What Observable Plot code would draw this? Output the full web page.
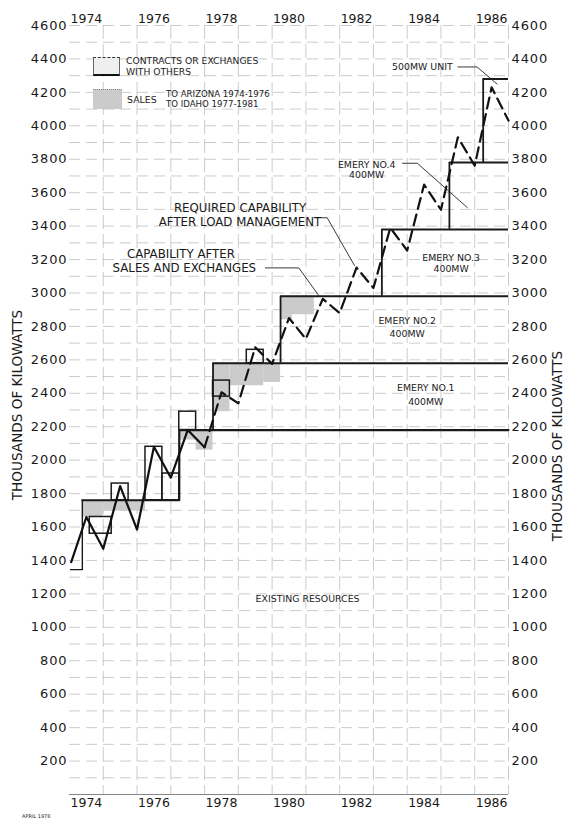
<!DOCTYPE html>
<html><head><meta charset="utf-8">
<script src="https://cdn.jsdelivr.net/npm/d3@7"></script>
<script src="https://cdn.jsdelivr.net/npm/@observablehq/plot@0.6"></script>
<style>
html,body{margin:0;padding:0;background:#fff;}
#wrap{position:relative;width:567px;height:833px;font-family:"DejaVu Sans",sans-serif;color:#1a1a1a;overflow:hidden;}
.lg{position:absolute;font-size:9.2px;line-height:1;white-space:nowrap;color:#222;}
.box{position:absolute;box-sizing:border-box;}
#wrap svg [aria-label="y-axis tick label"] text{letter-spacing:0.9px;}
</style></head><body><div id="wrap"></div>
<script>
// ---- data ----
const labelYears = [1974, 1976, 1978, 1980, 1982, 1984, 1986];
const valueTicks = d3.range(200, 4601, 200);
const gridValues = d3.range(100, 4601, 100);
const gridYears = d3.range(1975, 1988, 1);

// Required capability after load management (seasonal peaks / lows)
const reqYears  = [1974.05,1974.5,1975,1975.5,1976,1976.5,1977,1977.5,1978,1978.5,1979,1979.5,1980,1980.5,1981,1981.5,1982,1982.5,1983,1983.5,1984,1984.5,1985,1985.5,1986,1986.5,1987];
const reqValues = [1390,1660,1470,1845,1585,2080,1895,2180,2077,2406,2340,2675,2576,2850,2725,2965,2880,3152,3030,3390,3254,3648,3498,3931,3762,4230,4031];
const forecastFrom = 1978;

// Capability (existing resources) step line
const capYears  = [1974.38,1977.25,1977.25,1987];
const capValues = [1760,1760,2180,2180];
const capStartYears  = [1974.03,1974.38,1974.38];
const capStartValues = [1345,1345,1760];

// New units
const unitNames = ["EMERY NO.1","EMERY NO.2","EMERY NO.3","EMERY NO.4","500MW UNIT"];
const unitStart = [1978.25,1980.25,1983.25,1985.25,1986.25];
const unitBase  = [2180,2580,2980,3380,3780];
const unitTop   = [2580,2980,3380,3780,4280];
const planEnd = 1987;

// Sales (shaded)
const salesX1 = [1974.38,1975.0,1977.25,1977.75,1978.25,1978.75,1979.75,1980.25,1980.25];
const salesX2 = [1975.0,1976.25,1977.75,1978.25,1978.75,1979.75,1980.25,1981.25,1980.6];
const salesY1 = [1660,1695,2120,2060,2290,2445,2465,2870,2840];
const salesY2 = [1760,1760,2180,2180,2580,2580,2580,2980,2870];

// Contracts or exchanges (outlined)
const contrX1 = [1974.6,1975.25,1976.25,1976.75,1977.25,1978.25,1979.25];
const contrX2 = [1975.25,1975.75,1976.75,1977.25,1977.75,1978.75,1979.75];
const contrY1 = [1560,1760,1760,1760,2180,2380,2580];
const contrY2 = [1660,1860,2080,1920,2290,2476,2660];

// Annotations
const noteText  = ["EXISTING RESOURCES","EMERY NO.1","400MW","EMERY NO.2","400MW","EMERY NO.3","400MW","EMERY NO.4","400MW","500MW UNIT"];
const noteYears = [1981.05,1984.55,1984.55,1984.0,1984.0,1985.3,1985.3,1982.8,1982.8,1984.45];
const noteVals  = [1172,2434,2350,2835,2757,3212,3146,3768,3708,4350];
const bigText  = ["REQUIRED CAPABILITY","AFTER LOAD MANAGEMENT","CAPABILITY AFTER","SALES AND EXCHANGES"];
const bigYears = [1979.05,1979.05,1977.3,1977.4];
const bigVals  = [3505,3421,3230,3146];

const leaderSales = [[1979.8,3150],[1980.79,3150],[1981.38,2985]];
const leaderReq   = [[1981.25,3450],[1981.63,3450],[1982.44,3164]];
const leaderE4    = [[1983.86,3776],[1984.3,3776],[1985.78,3511]];
const leader500   = [[1985.5,4352],[1986.07,4352],[1986.66,4250]];

// ---- tables ----
const req = reqYears.map((t,i)=>({t, v:reqValues[i]}));
const reqSolid = req.filter(d=>d.t<=forecastFrom);
const reqDash  = req.filter(d=>d.t>=forecastFrom);
const cap = capYears.map((t,i)=>({t, v:capValues[i]}));
const capStart = capStartYears.map((t,i)=>({t, v:capStartValues[i]}));
const units = unitNames.map((n,i)=>({n, s:unitStart[i], b:unitBase[i], top:unitTop[i], e:planEnd}));
const sales = salesX1.map((x1,i)=>({x1, x2:salesX2[i], y1:salesY1[i], y2:salesY2[i]}));
const contr = contrX1.map((x1,i)=>({x1, x2:contrX2[i], y1:contrY1[i], y2:contrY2[i]}));
const notes = noteText.map((s,i)=>({s, t:noteYears[i], v:noteVals[i]}));
const bigs = bigText.map((s,i)=>({s, t:bigYears[i], v:bigVals[i]}));
const leaders = [leaderSales,leaderReq,leaderE4,leader500].flatMap((L,k)=>L.map(([t,v])=>({k,t,v})));
const yearTickPos = labelYears.map(y=>y+0.5);

const chart = Plot.plot({
  width: 567, height: 833,
  marginLeft: 69, marginRight: 59, marginTop: 25, marginBottom: 39,
  x: {domain: [1974, 1987]},
  y: {domain: [0, 4600]},
  style: {fontFamily: "DejaVu Sans, sans-serif", background: "white", color: "#1a1a1a", overflow: "visible"},
  marks: [
    Plot.ruleY(gridValues, {stroke:"#8a8a8a", strokeOpacity:0.55, strokeWidth:0.8, strokeDasharray:"11,6"}),
    Plot.ruleX(gridYears, {stroke:"#8a8a8a", strokeOpacity:0.55, strokeWidth:0.8, strokeDasharray:"14,5"}),
    Plot.ruleY([0], {stroke:"#777", strokeWidth:0.9}),
    Plot.rect(sales, {x1:"x1", x2:"x2", y1:"y1", y2:"y2", fill:"#cbcbcb"}),
    Plot.rect(contr, {x1:"x1", x2:"x2", y1:"y1", y2:"y2", fill:"none", stroke:"#1a1a1a", strokeWidth:1.5}),
    Plot.line(capStart, {x:"t", y:"v", stroke:"#1a1a1a", strokeWidth:1.4}),
    Plot.line(cap, {x:"t", y:"v", stroke:"#1a1a1a", strokeWidth:2.2}),
    Plot.ruleX(units, {x:"s", y1:"b", y2:"top", stroke:"#1a1a1a", strokeWidth:1.8}),
    Plot.ruleY(units, {y:"top", x1:"s", x2:"e", stroke:"#1a1a1a", strokeWidth:2}),
    Plot.line(reqSolid, {x:"t", y:"v", stroke:"#111", strokeWidth:2.2}),
    Plot.line(reqDash, {x:"t", y:"v", stroke:"#111", strokeWidth:2.2, strokeDasharray:"11,6"}),
    Plot.line(leaders, {x:"t", y:"v", z:"k", stroke:"#222", strokeWidth:0.9}),
    Plot.text(notes, {x:"t", y:"v", text:"s", fontSize:9.4, fill:"#222"}),
    Plot.text(bigs, {x:"t", y:"v", text:"s", fontSize:11.8, fill:"#1a1a1a"}),
    Plot.text(["THOUSANDS OF KILOWATTS"], {frameAnchor:"left", textAnchor:"middle", dx:-52, dy:-5, rotate:-90, fontSize:13.6}),
    Plot.text(["THOUSANDS OF KILOWATTS"], {frameAnchor:"right", textAnchor:"middle", dx:49, dy:36, rotate:-90, fontSize:13.6}),
    Plot.axisY(valueTicks, {anchor:"left", tickSize:0, tickPadding:2, fontSize:13, label:null, tickFormat:d=>String(d)}),
    Plot.axisY(valueTicks, {anchor:"right", tickSize:0, tickPadding:3, fontSize:13, label:null, tickFormat:d=>String(d)}),
    Plot.axisX(yearTickPos, {anchor:"bottom", tickSize:0, tickPadding:4, fontSize:12.5, label:null, tickFormat:d=>String(d-0.5)}),
    Plot.axisX(yearTickPos, {anchor:"top", tickSize:0, tickPadding:3, fontSize:12.5, label:null, tickFormat:d=>String(d-0.5)})
  ]
});
const wrap = document.getElementById("wrap");
wrap.appendChild(chart);

// legend (HTML overlay)
function add(html){ wrap.insertAdjacentHTML("beforeend", html); }
add(`<div class="box" style="left:93px;top:57px;width:27px;height:19px;background:#efefef;border-top:1.5px dashed #333;border-bottom:2px solid #111;border-left:1px solid #666;border-right:1px solid #666;"></div>`);
add(`<div class="lg" style="left:126px;top:56px;">CONTRACTS OR EXCHANGES</div>`);
add(`<div class="lg" style="left:126px;top:67px;">WITH OTHERS</div>`);
add(`<div class="box" style="left:93px;top:89px;width:29px;height:20px;background:#cbcbcb;border-top:1px dotted #888;"></div>`);
add(`<div class="lg" style="left:127px;top:94.5px;font-size:9.4px;">SALES</div>`);
add(`<div class="lg" style="left:166px;top:89.5px;font-size:8.6px;">TO ARIZONA 1974-1976</div>`);
add(`<div class="lg" style="left:166px;top:99.5px;font-size:8.6px;">TO IDAHO 1977-1981</div>`);
add(`<div class="lg" style="left:22px;top:814px;font-size:5px;">APRIL 1978</div>`);
</script></body></html>
